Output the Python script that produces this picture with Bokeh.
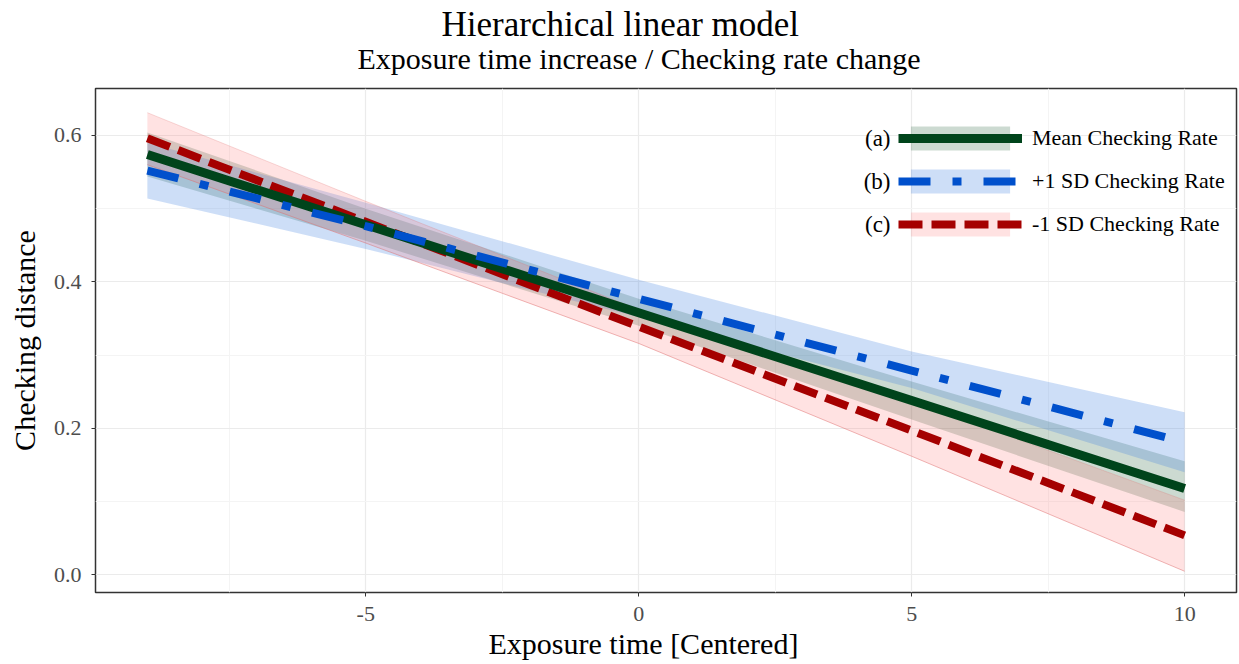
from bokeh.plotting import figure
from bokeh.models import (Range1d, FixedTicker, Title, Legend, LegendItem, Label,
                          ColumnDataSource, CustomJSTickFormatter)
from bokeh.embed import file_html
from bokeh.resources import INLINE

# ---- data ----
x_pts = [-9, -5, 0, 5, 10]

mean_fit = [0.574, 0.478, 0.358, 0.238, 0.118]
mean_lo = [0.544, 0.456, 0.340, 0.212, 0.086]
mean_hi = [0.604, 0.500, 0.377, 0.264, 0.155]

plus_fit = [0.552, 0.476, 0.377, 0.279, 0.181]
plus_lo = [0.514, 0.445, 0.352, 0.255, 0.140]
plus_hi = [0.590, 0.508, 0.403, 0.305, 0.222]

minus_fit = [0.596, 0.482, 0.339, 0.197, 0.054]
minus_lo = [0.560, 0.453, 0.316, 0.162, 0.005]
minus_hi = [0.631, 0.510, 0.362, 0.238, 0.102]

series_labels = ["Mean Checking Rate", "+1 SD Checking Rate", "-1 SD Checking Rate"]
series_tags = ["(a)", "(b)", "(c)"]

x_ticks = [-5, 0, 5, 10]
x_minor = [-7.5, -2.5, 2.5, 7.5]
y_ticks = [0.0, 0.2, 0.4, 0.6]
y_minor = [0.1, 0.3, 0.5]

FONT = "Liberation Serif"
GREEN = "#00441b"
BLUE = "#0050cc"
RED = "#a50000"

src = ColumnDataSource(dict(x=x_pts, mf=mean_fit, ml=mean_lo, mh=mean_hi,
                            pf=plus_fit, pl=plus_lo, ph=plus_hi,
                            nf=minus_fit, nl=minus_lo, nh=minus_hi))

p = figure(width=1239, height=664, output_backend="svg", toolbar_location=None,
           x_range=Range1d(-9.95, 10.95), y_range=Range1d(-0.024, 0.664),
           title="Hierarchical linear model",
           min_border_left=95, min_border_right=3, min_border_top=88,
           min_border_bottom=72)

p.title.align = "left"
p.title.offset = 346
p.title.standoff = -34
p.title.text_font = FONT
p.title.text_font_size = "35px"
p.title.text_font_style = "normal"
p.title.text_color = "black"
p.add_layout(Title(text="Exposure time increase / Checking rate change", align="left",
                   offset=262, standoff=27,
                   text_font=FONT, text_font_size="30px", text_font_style="normal",
                   text_color="black"),
             "above")

p.background_fill_color = "white"
p.border_fill_color = "white"
p.outline_line_color = "#333333"
p.outline_line_width = 1.5

# grid
p.xaxis.ticker = FixedTicker(ticks=x_ticks, minor_ticks=x_minor)
p.yaxis.ticker = FixedTicker(ticks=y_ticks, minor_ticks=y_minor)
p.xaxis.formatter = CustomJSTickFormatter(code="return tick.toFixed(0);")
p.yaxis.formatter = CustomJSTickFormatter(code="return tick.toFixed(1);")
for g in (p.xgrid, p.ygrid):
    g.grid_line_color = "#ebebeb"
    g.grid_line_width = 1.2
    g.minor_grid_line_color = "#f4f4f4"
    g.minor_grid_line_width = 1

for ax in (p.xaxis, p.yaxis):
    ax.axis_line_color = None
    ax.major_tick_line_color = "#333333"
    ax.major_tick_out = 4
    ax.major_tick_in = 0
    ax.minor_tick_line_color = None
    ax.major_label_text_font = FONT
    ax.major_label_text_font_size = "22px"
    ax.major_label_text_color = "#4d4d4d"
    ax.axis_label_text_font = FONT
    ax.axis_label_text_font_size = "30px"
    ax.axis_label_text_font_style = "normal"
    ax.axis_label_text_color = "black"
p.yaxis.axis_label = "Checking distance"
p.xaxis.major_label_standoff = 10
p.yaxis.major_label_standoff = 10
p.yaxis.axis_label_standoff = 10
p.add_layout(Title(text="Exposure time [Centered]", align="left", offset=393,
                   standoff=2, text_font=FONT, text_font_size="30px",
                   text_font_style="normal", text_color="black"), "below")

# bands
b_green = p.varea(x="x", y1="ml", y2="mh", source=src, fill_color=GREEN, fill_alpha=0.2)
b_blue = p.varea(x="x", y1="pl", y2="ph", source=src, fill_color="#3d7fe0", fill_alpha=0.26)
b_red = p.varea(x="x", y1="nl", y2="nh", source=src, fill_color="#ff7070", fill_alpha=0.2)
p.line(x="x", y="nl", source=src, line_color="#e07070", line_alpha=0.5, line_width=1)
p.line(x="x", y="nh", source=src, line_color="#e07070", line_alpha=0.25, line_width=1)

# lines
l_red = p.line(x="x", y="nf", source=src, line_color=RED, line_width=8,
               line_dash="24 9")
l_green = p.line(x="x", y="mf", source=src, line_color=GREEN, line_width=9)
l_blue = p.line(x="x", y="pf", source=src, line_color=BLUE, line_width=8,
                line_dash="32 22 9 22")

legend = Legend(items=[
    LegendItem(label=series_labels[0], renderers=[b_green, l_green]),
    LegendItem(label=series_labels[1], renderers=[b_blue, l_blue]),
    LegendItem(label=series_labels[2], renderers=[b_red, l_red]),
], location=(803, 353))
legend.background_fill_alpha = 0
legend.border_line_color = None
legend.padding = 0
legend.margin = 0
legend.spacing = 13
legend.glyph_width = 124
legend.glyph_height = 30
legend.label_standoff = 10
legend.label_text_font = FONT
legend.label_text_font_size = "22px"
legend.label_text_color = "black"
legend.label_height = 30
p.add_layout(legend, "center")

for tag, yy in zip(series_tags, [454, 411, 368]):
    p.add_layout(Label(x=795, y=yy, x_units="screen", y_units="screen", text=tag,
                       text_font=FONT, text_font_size="23px", text_align="right",
                       text_baseline="middle", text_color="black"))

open("out.html", "w").write(file_html(p, INLINE))
